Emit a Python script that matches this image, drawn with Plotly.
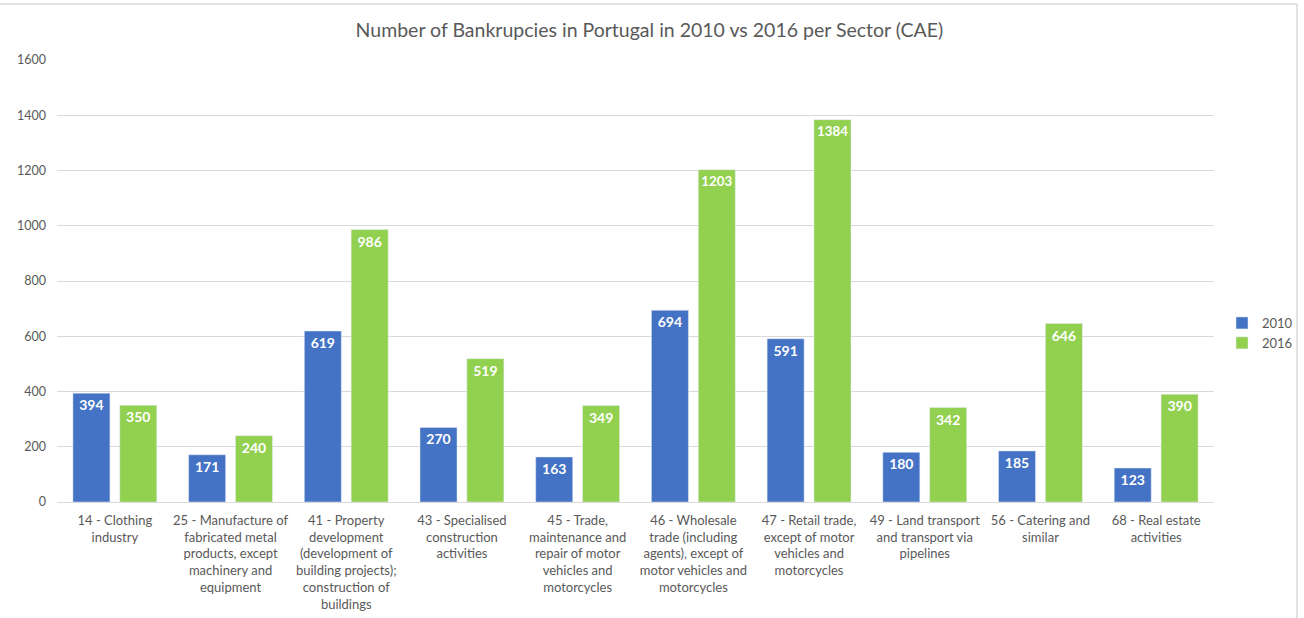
import plotly.graph_objects as go

categories = [
    "14 - Clothing<br>industry",
    "25 - Manufacture of<br>fabricated metal<br>products, except<br>machinery and<br>equipment",
    "41 - Property<br>development<br>(development of<br>building projects);<br>construction of<br>buildings",
    "43 - Specialised<br>construction<br>activities",
    "45 - Trade,<br>maintenance and<br>repair of motor<br>vehicles and<br>motorcycles",
    "46 - Wholesale<br>trade (including<br>agents), except of<br>motor vehicles and<br>motorcycles",
    "47 - Retail trade,<br>except of motor<br>vehicles and<br>motorcycles",
    "49 - Land transport<br>and transport via<br>pipelines",
    "56 - Catering and<br>similar",
    "68 - Real estate<br>activities",
]
values_2010 = [394, 171, 619, 270, 163, 694, 591, 180, 185, 123]
values_2016 = [350, 240, 986, 519, 349, 1203, 1384, 342, 646, 390]
y_ticks = [0, 200, 400, 600, 800, 1000, 1200, 1400, 1600]

FONT = "Lato, 'Open Sans', sans-serif"
fig = go.Figure()
fig.add_trace(go.Bar(
    name="2010", x=categories, y=values_2010, marker_color="#4472C4",
    text=values_2010, textposition="inside", insidetextanchor="end",
    textfont=dict(color="white", size=14, family=FONT, weight="bold"),
    textangle=0, cliponaxis=False,
))
fig.add_trace(go.Bar(
    name="2016", x=categories, y=values_2016, marker_color="#92D050",
    text=values_2016, textposition="inside", insidetextanchor="end",
    textfont=dict(color="white", size=14, family=FONT, weight="bold"),
    textangle=0, cliponaxis=False,
))

W, H = 1304, 618
L, R, T, B = 57, 90, 60, 116
pw, ph = W - L - R, H - T - B

def px(x):
    return (x - L) / pw

def py(y):
    return (H - B - y) / ph

fig.update_layout(
    width=W, height=H,
    margin=dict(l=L, r=R, t=T, b=B, autoexpand=False),
    paper_bgcolor="white", plot_bgcolor="white",
    font=dict(family=FONT, color="#595959", size=12),
    title=dict(text="Number of Bankrupcies in Portugal in 2010 vs 2016 per Sector (CAE)",
               x=0.498, xanchor="center", y=1 - 30 / H, yanchor="middle",
               font=dict(size=19.5, color="#595959", family=FONT)),
    barmode="group", bargap=0.19, bargroupgap=0.21,
    legend=dict(x=px(1222), xanchor="left", y=py(333), yanchor="middle",
                font=dict(size=13, color="#595959"), itemwidth=30,
                tracegroupgap=6, bgcolor="rgba(0,0,0,0)"),
    xaxis=dict(showgrid=False, showline=True, linecolor="#D9D9D9", linewidth=1,
               ticks="", tickfont=dict(size=13, color="#595959"), ticklabelstandoff=6),
    yaxis=dict(range=[0, 1600], tickvals=y_ticks, showgrid=True, gridcolor="#D9D9D9",
               gridwidth=1, zeroline=False, showline=False, ticks="",
               tickfont=dict(size=12.5, color="#595959"), ticklabelstandoff=10),
    shapes=[
        dict(type="line", xref="paper", yref="paper", x0=px(0), x1=px(1297),
             y0=py(4), y1=py(4), line=dict(color="#D9D9D9", width=1.5)),
        dict(type="line", xref="paper", yref="paper", x0=px(1297), x1=px(1297),
             y0=py(4), y1=py(618), line=dict(color="#D9D9D9", width=1.5)),
    ],
)

fig.write_html("out.html")
